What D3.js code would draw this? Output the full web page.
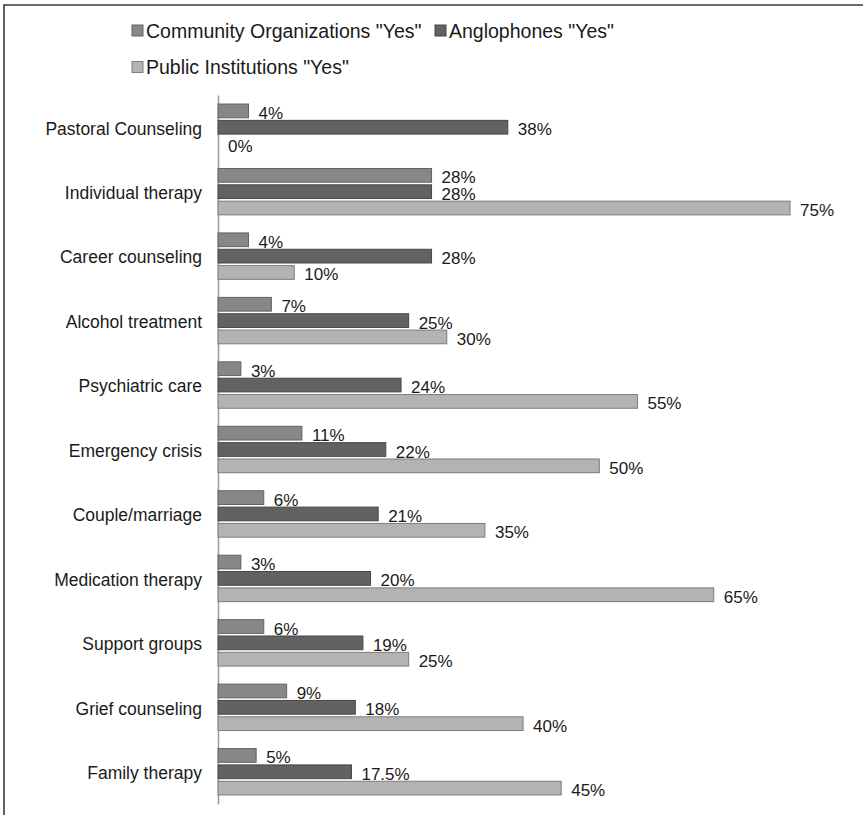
<!DOCTYPE html>
<html>
<head>
<meta charset="utf-8">
<script src="https://cdn.jsdelivr.net/npm/d3@7"></script>
<style>
  html, body { margin: 0; padding: 0; background: #fff; }
  svg { display: block; font-family: "Liberation Sans", Arial, Helvetica, sans-serif; }
</style>
</head>
<body>
<svg id="chart" width="863" height="815"></svg>
<script>
const categories = ["Pastoral Counseling", "Individual therapy", "Career counseling", "Alcohol treatment",
  "Psychiatric care", "Emergency crisis", "Couple/marriage", "Medication therapy",
  "Support groups", "Grief counseling", "Family therapy"];
const seriesNames = ['Community Organizations "Yes"', 'Anglophones "Yes"', 'Public Institutions "Yes"'];
const communityYes = [4, 28, 4, 7, 3, 11, 6, 3, 6, 9, 5];
const anglophonesYes = [38, 28, 28, 25, 24, 22, 21, 20, 19, 18, 17.5];
const publicYes = [0, 75, 10, 30, 55, 50, 35, 65, 25, 40, 45];
const seriesValues = [communityYes, anglophonesYes, publicYes];

const fills = ["#878787", "#626262", "#b3b3b3"];
const strokes = ["#626262", "#474747", "#7d7d7d"];

const svg = d3.select("#chart");

// frame (top and left edges)
svg.append("path")
  .attr("d", "M4,815 L4,5 L863,5")
  .attr("fill", "none")
  .attr("stroke", "#3a3a3a")
  .attr("stroke-width", 1.6);

const x = d3.scaleLinear().domain([0, 75]).range([218, 790]);
const y = d3.scaleBand().domain(categories).range([95, 804]).paddingInner(0).paddingOuter(0);
const ySub = d3.scaleBand().domain(d3.range(3)).range([-23.2, 23.2]).paddingInner(0.16);

// category axis
const axis = svg.append("g")
  .attr("transform", "translate(218,0)")
  .call(d3.axisLeft(y).tickSize(0).tickSizeOuter(0).tickPadding(16));
axis.select(".domain").attr("stroke", "#9a9a9a").attr("stroke-width", 1.5);
axis.selectAll(".tick text")
  .attr("font-size", "17.5px")
  .attr("fill", "#1a1a1a")
  .attr("font-family", "'Liberation Sans', Arial, sans-serif")
  .attr("dy", "0.42em");

// bars
const groups = svg.append("g").selectAll("g")
  .data(categories)
  .join("g")
  .attr("transform", d => `translate(0,${y(d) + y.bandwidth() / 2})`);

groups.each(function(cat, ci) {
  const g = d3.select(this);
  seriesValues.forEach((vals, si) => {
    const v = vals[ci];
    if (v > 0) {
      g.append("rect")
        .attr("x", x(0))
        .attr("y", ySub(si))
        .attr("width", x(v) - x(0))
        .attr("height", ySub.bandwidth())
        .attr("fill", fills[si])
        .attr("stroke", strokes[si])
        .attr("stroke-width", 1);
    }
    g.append("text")
      .attr("x", x(v) + 10)
      .attr("y", ySub(si) + ySub.bandwidth() / 2 + 8)
      .attr("font-size", "17px")
      .attr("fill", "#1a1a1a")
      .text(v + "%");
  });
});

// legend
const legendItems = [
  { i: 0, x: 132, y: 30.5 },
  { i: 1, x: 435, y: 30.5 },
  { i: 2, x: 132, y: 67 }
];
const legend = svg.append("g");
legendItems.forEach(it => {
  legend.append("rect")
    .attr("x", it.x)
    .attr("y", it.y - 5.5)
    .attr("width", 11)
    .attr("height", 11)
    .attr("fill", fills[it.i])
    .attr("stroke", strokes[it.i])
    .attr("stroke-width", 1);
  legend.append("text")
    .attr("x", it.x + 14)
    .attr("y", it.y + 7)
    .attr("font-size", "19.5px")
    .attr("fill", "#1a1a1a")
    .text(seriesNames[it.i]);
});
</script>
</body>
</html>
